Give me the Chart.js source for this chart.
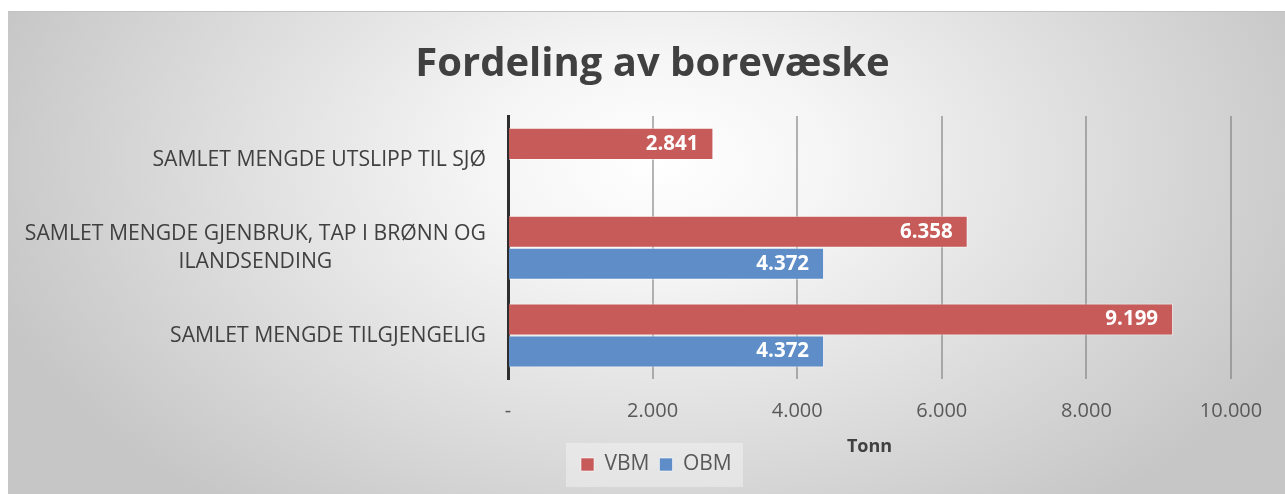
<!DOCTYPE html>
<html>
<head>
<meta charset="utf-8">
<script src="https://cdn.jsdelivr.net/npm/chart.js@4.4.1/dist/chart.umd.min.js"></script>
<style>
  html, body { margin: 0; padding: 0; background: #fff; }
  #wrap { position: relative; width: 1285px; height: 494px; }
  #bg {
    position: absolute; left: 8px; top: 11px; width: 1277px; height: 483px;
    border-top: 1px solid #c2c2c2; box-sizing: border-box;
    background: radial-gradient(ellipse 700px 440px at 650px 150px, #ffffff 0%, #f5f5f5 25%, #c6c6c6 100%);
  }
  canvas { position: absolute; left: 0; top: 0; }
</style>
</head>
<body>
<div id="wrap">
  <div id="bg"></div>
  <canvas id="chart" width="1285" height="494"></canvas>
</div>
<script>
// kategorier (ovenfra og ned)
const categories = [
  ['SAMLET MENGDE UTSLIPP TIL SJØ'],
  ['SAMLET MENGDE GJENBRUK, TAP I BRØNN OG', 'ILANDSENDING'],
  ['SAMLET MENGDE TILGJENGELIG']
];
const seriesNames = ['VBM', 'OBM'];
const vbmValues = [2841, 6358, 9199];
const obmValues = [null, 4372, 4372];
const xMin = 0;
const xMax = 10000;
const xStep = 2000;

const colors = { vbm: '#C75B59', obm: '#5E8DC8', text: '#404040', tick: '#595959' };
const FONT = '"Open Sans", "DejaVu Sans", sans-serif';

// tusenskille med punktum
function fmt(v) {
  if (v === 0) return '-';
  return String(v).replace(/\B(?=(\d{3})+(?!\d))/g, '.');
}

// kategori-etiketter: høyrejustert blokk, linjer sentrert i blokken
const categoryLabels = {
  id: 'categoryLabels',
  afterDraw(chart) {
    const ctx = chart.ctx;
    const yScale = chart.scales.y;
    const right = chart.chartArea.left - 22;
    const lineH = 28;
    ctx.save();
    ctx.font = '21.2px ' + FONT;
    ctx.fillStyle = colors.text;
    ctx.textAlign = 'center';
    ctx.textBaseline = 'middle';
    categories.forEach((lines, i) => {
      const w = Math.max(...lines.map(l => ctx.measureText(l).width));
      const cx = right - w / 2;
      const cy = yScale.getPixelForValue(i);
      lines.forEach((l, k) => {
        ctx.fillText(l, cx, cy + (k - (lines.length - 1) / 2) * lineH);
      });
    });
    ctx.restore();
  }
};

// verdier inne i søylene
const barLabels = {
  id: 'barLabels',
  afterDatasetsDraw(chart) {
    const ctx = chart.ctx;
    ctx.save();
    ctx.font = 'bold 20.5px ' + FONT;
    ctx.fillStyle = '#ffffff';
    ctx.textAlign = 'right';
    ctx.textBaseline = 'middle';
    chart.data.datasets.forEach((ds, i) => {
      chart.getDatasetMeta(i).data.forEach((bar, j) => {
        const v = ds.data[j];
        if (v == null) return;
        ctx.fillText(fmt(v), bar.x - 15, bar.y);
      });
    });
    ctx.restore();
  }
};

// flytt legenden inn under aksen, tittelen mot midten av hele bildet
const placeBoxes = {
  id: 'placeBoxes',
  afterLayout(chart) {
    const lg = chart.legend;
    const shift = 571 - lg.left;
    lg.left += shift;
    lg.right += shift;
    const tb = chart.titleBlock;
    tb.left += 33;
    tb.right += 33;
  },
  beforeDraw(chart) {
    const ctx = chart.ctx;
    ctx.save();
    ctx.fillStyle = 'rgba(255,255,255,0.35)';
    ctx.fillRect(566, 443, 177, 44);
    ctx.restore();
  }
};

new Chart(document.getElementById('chart'), {
  type: 'bar',
  data: {
    labels: categories,
    datasets: [
      {
        label: seriesNames[0],
        data: vbmValues,
        backgroundColor: colors.vbm,
        borderColor: 'rgba(255,255,255,0.55)',
        borderWidth: 1
      },
      {
        label: seriesNames[1],
        data: obmValues,
        backgroundColor: colors.obm,
        borderColor: 'rgba(255,255,255,0.55)',
        borderWidth: 1
      }
    ]
  },
  options: {
    indexAxis: 'y',
    responsive: false,
    animation: false,
    categoryPercentage: 0.73,
    barPercentage: 1.0,
    layout: { padding: { left: 8, right: 54, top: 11, bottom: 9 } },
    plugins: {
      title: {
        display: true,
        text: 'Fordeling av borevæske',
        color: colors.text,
        font: { family: FONT, size: 40, weight: 'bold' },
        padding: { top: 30, bottom: 27 }
      },
      legend: {
        display: true,
        position: 'bottom',
        align: 'start',
        labels: {
          color: colors.tick,
          font: { family: FONT, size: 21 },
          boxWidth: 13,
          boxHeight: 13,
          padding: 10
        }
      },
      tooltip: { enabled: false }
    },
    scales: {
      x: {
        min: xMin,
        max: xMax,
        ticks: {
          stepSize: xStep,
          color: colors.tick,
          font: { family: FONT, size: 20 },
          padding: 20,
          callback: v => fmt(v)
        },
        grid: { color: 'rgba(120,120,120,0.55)', lineWidth: 2, drawTicks: false },
        border: { display: false },
        title: {
          display: true,
          text: 'Tonn',
          color: colors.text,
          font: { family: FONT, size: 18, weight: 'bold' },
          padding: { top: -7, bottom: -14 }
        }
      },
      y: {
        ticks: { display: false },
        grid: { display: false, drawTicks: false },
        border: { display: true, color: '#2e2e2e', width: 3 },
        afterFit(scale) { scale.width = 500; }
      }
    }
  },
  plugins: [categoryLabels, barLabels, placeBoxes]
});
</script>
</body>
</html>
